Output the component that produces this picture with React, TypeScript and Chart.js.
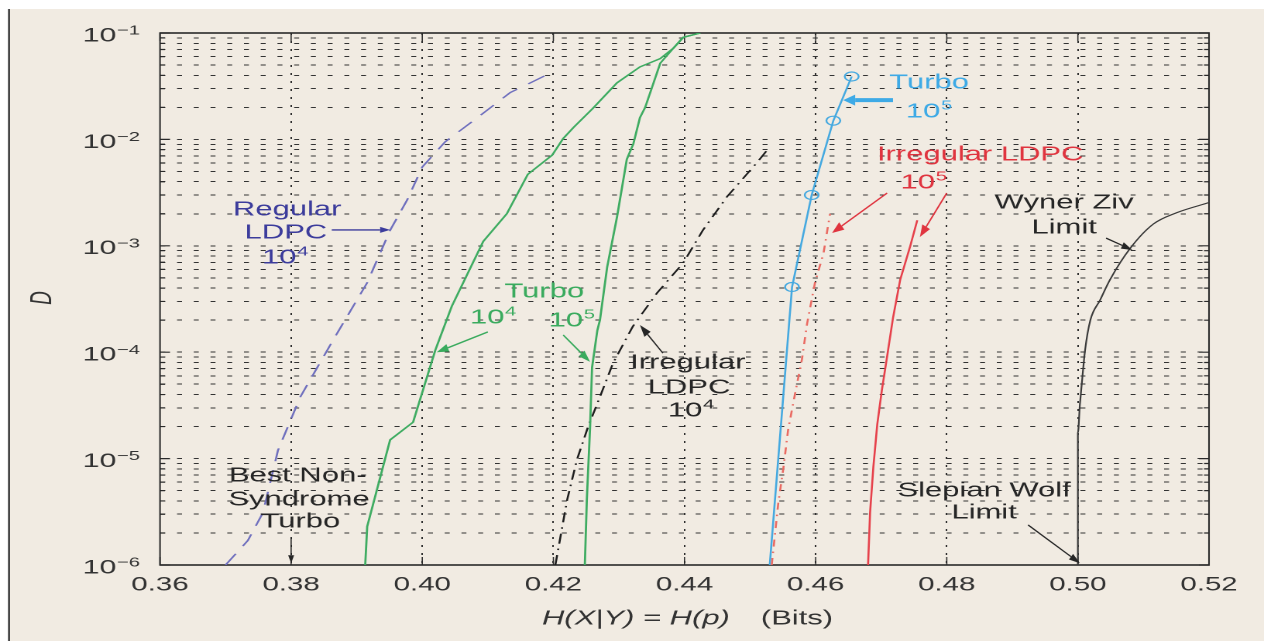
import React, { useEffect, useRef } from 'react';
import { Chart, registerables } from 'chart.js';

Chart.register(...registerables);

// ---------------- page / layout ----------------
const PAGE_W = 1264;
const PAGE_H = 641;
const CW = 816; // canvas width before the horizontal stretch of the original picture
const SX = PAGE_W / CW;
const PLOT_LEFT = 160 / SX;
const PLOT_RIGHT = 1209 / SX;
const PLOT_TOP = 33;
const PLOT_BOTTOM = 565;
const FONT = '"Liberation Sans", Arial, Helvetica, sans-serif';
const BG = '#f1ebe2';

// ---------------- axes ----------------
const X_TICKS = [0.36, 0.38, 0.4, 0.42, 0.44, 0.46, 0.48, 0.5, 0.52];
const Y_DECADES = [-6, -5, -4, -3, -2, -1];
const Y_MANTISSAS = [1, 2, 3, 4, 5, 6, 7, 8, 9];
const Y_TICKS: number[] = [];
Y_DECADES.forEach((e) => {
  Y_MANTISSAS.forEach((m) => {
    if (e === -1 && m > 1) return;
    Y_TICKS.push(Number((m * Math.pow(10, e)).toPrecision(6)));
  });
});

// ---------------- series ----------------
const regularLdpc1e4X = [0.37, 0.3734, 0.3757, 0.378, 0.3814, 0.3864, 0.3916, 0.3951, 0.3977, 0.4, 0.4035, 0.4078, 0.4134, 0.4192];
const regularLdpc1e4D = [1.0e-6, 1.7e-6, 3.1e-6, 1.2e-5, 3.8e-5, 1.3e-4, 4.5e-4, 1.4e-3, 2.7e-3, 5.5e-3, 9.5e-3, 1.5e-2, 2.75e-2, 4.1e-2];

const turbo1e4X = [0.3913, 0.3916, 0.3951, 0.3986, 0.402, 0.4045, 0.4093, 0.4129, 0.4161, 0.4198, 0.4215, 0.4231, 0.426, 0.4297, 0.4332, 0.4363, 0.4383, 0.4398, 0.4424];
const turbo1e4D = [1.0e-6, 2.3e-6, 1.5e-5, 2.2e-5, 1.05e-4, 2.7e-4, 1.1e-3, 2.0e-3, 4.7e-3, 7.1e-3, 1.02e-2, 1.3e-2, 1.95e-2, 3.4e-2, 4.8e-2, 5.75e-2, 7.2e-2, 9.1e-2, 1.0e-1];

const turbo1e5X = [0.4248, 0.4251, 0.4256, 0.4259, 0.4267, 0.4271, 0.4282, 0.4297, 0.4312, 0.4322, 0.4332, 0.434, 0.4363, 0.4383, 0.4398, 0.4424];
const turbo1e5D = [1.0e-6, 4.1e-6, 2.0e-5, 7.2e-5, 1.6e-4, 2.0e-4, 6.3e-4, 1.86e-3, 6.5e-3, 9.1e-3, 1.6e-2, 2.0e-2, 5.2e-2, 7.2e-2, 9.1e-2, 1.0e-1];

const irregularLdpc1e4X = [0.4203, 0.4221, 0.4236, 0.4253, 0.4271, 0.4291, 0.4321, 0.4358, 0.4398, 0.4428, 0.4465, 0.451, 0.453];
const irregularLdpc1e4D = [1.0e-6, 4.1e-6, 9.8e-6, 2.0e-5, 3.8e-5, 7.9e-5, 1.74e-4, 3.6e-4, 6.9e-4, 1.4e-3, 2.9e-3, 6.0e-3, 8.5e-3];

const turboSyndrome1e5X = [0.453, 0.4564, 0.4594, 0.4627, 0.4655];
const turboSyndrome1e5D = [1.0e-6, 4.1e-4, 3.0e-3, 1.5e-2, 3.9e-2];

const irregularLdpc1e5aX = [0.4533, 0.4543, 0.4551, 0.4558, 0.4569, 0.4579, 0.4587, 0.4599, 0.4612, 0.4622];
const irregularLdpc1e5aD = [1.0e-6, 3.8e-6, 8.3e-6, 1.86e-5, 4.2e-5, 8.5e-5, 1.86e-4, 4.5e-4, 8.5e-4, 2.0e-3];

const irregularLdpc1e5bX = [0.468, 0.4683, 0.4688, 0.4694, 0.4701, 0.4709, 0.4718, 0.4729, 0.4744, 0.4755];
const irregularLdpc1e5bD = [1.0e-6, 3.1e-6, 8.3e-6, 2.1e-5, 4.4e-5, 9.1e-5, 2.1e-4, 4.8e-4, 9.8e-4, 1.74e-3];

const limitX = [0.5, 0.5, 0.5003, 0.5006, 0.5011, 0.5019, 0.5034, 0.5049, 0.508, 0.5115, 0.5151, 0.52];
const limitD = [1.0e-6, 1.74e-5, 3.2e-5, 5.1e-5, 1.05e-4, 2.0e-4, 3.1e-4, 4.8e-4, 9.5e-4, 1.6e-3, 2.05e-3, 2.55e-3];

// ---------------- annotations ----------------
const BLUE = '#3c3c9c';
const GREEN = '#3aab5e';
const CYAN = '#3eaae6';
const RED = '#e0343f';
const DARK = '#262626';

type Label = { text: string; sup?: string; x: number; d: number; color: string };
type Arrow = { x1: number; d1: number; x2: number; d2: number; color: string; width: number; head: number; headW: number };

const LABELS: Label[] = [
  { text: 'Regular', x: 0.3794, d: 2.17e-3, color: BLUE },
  { text: 'LDPC', x: 0.3792, d: 1.32e-3, color: BLUE },
  { text: '10', sup: '4', x: 0.3791, d: 7.67e-4, color: BLUE },
  { text: 'Turbo', x: 0.4186, d: 3.68e-4, color: GREEN },
  { text: '10', sup: '4', x: 0.4108, d: 2.09e-4, color: GREEN },
  { text: '10', sup: '5', x: 0.4228, d: 1.96e-4, color: GREEN },
  { text: 'Irregular', x: 0.4405, d: 7.9e-5, color: DARK },
  { text: 'LDPC', x: 0.4407, d: 4.61e-5, color: DARK },
  { text: '10', sup: '4', x: 0.441, d: 2.8e-5, color: DARK },
  { text: 'Best Non-', x: 0.381, d: 6.85e-6, color: DARK },
  { text: 'Syndrome', x: 0.3812, d: 4.08e-6, color: DARK },
  { text: 'Turbo', x: 0.3814, d: 2.54e-6, color: DARK },
  { text: 'Turbo', x: 0.4773, d: 3.39e-2, color: CYAN },
  { text: '10', sup: '5', x: 0.4773, d: 1.81e-2, color: CYAN },
  { text: 'Irregular LDPC', x: 0.4851, d: 7.13e-3, color: RED },
  { text: '10', sup: '5', x: 0.4765, d: 3.89e-3, color: RED },
  { text: 'Wyner Ziv', x: 0.4979, d: 2.52e-3, color: DARK },
  { text: 'Limit', x: 0.4979, d: 1.47e-3, color: DARK },
  { text: 'Slepian Wolf', x: 0.4857, d: 4.95e-6, color: DARK },
  { text: 'Limit', x: 0.4857, d: 3.08e-6, color: DARK },
];

const ARROWS: Arrow[] = [
  { x1: 0.3862, d1: 1.41e-3, x2: 0.3951, d2: 1.41e-3, color: BLUE, width: 1.3, head: 10, headW: 6 },
  { x1: 0.41, d1: 1.55e-4, x2: 0.4022, d2: 1.0e-4, color: GREEN, width: 1.5, head: 12, headW: 8 },
  { x1: 0.4215, d1: 1.45e-4, x2: 0.4256, d2: 8.1e-5, color: GREEN, width: 1.5, head: 12, headW: 8 },
  { x1: 0.4367, d1: 9.8e-5, x2: 0.4332, d2: 1.8e-4, color: DARK, width: 1.3, head: 12, headW: 8 },
  { x1: 0.38, d1: 1.79e-6, x2: 0.38, d2: 1.04e-6, color: DARK, width: 1.2, head: 8, headW: 6 },
  { x1: 0.4718, d1: 2.34e-2, x2: 0.4642, d2: 2.34e-2, color: CYAN, width: 4, head: 12, headW: 11 },
  { x1: 0.4709, d1: 3.13e-3, x2: 0.4625, d2: 1.32e-3, color: RED, width: 1.5, head: 12, headW: 9 },
  { x1: 0.48, d1: 3.13e-3, x2: 0.4759, d2: 1.21e-3, color: RED, width: 1.5, head: 12, headW: 9 },
  { x1: 0.5043, d1: 1.18e-3, x2: 0.5083, d2: 9.14e-4, color: DARK, width: 1.3, head: 11, headW: 7 },
  { x1: 0.4924, d1: 2.38e-6, x2: 0.5003, d2: 1.04e-6, color: DARK, width: 1.3, head: 11, headW: 7 },
];

const pts = (xs: number[], ds: number[]) => xs.map((x, i) => ({ x, y: ds[i] }));

function drawArrow(ctx: CanvasRenderingContext2D, a: Arrow, xs: any, ys: any) {
  const x1 = xs.getPixelForValue(a.x1) * SX;
  const y1 = ys.getPixelForValue(a.d1);
  const x2 = xs.getPixelForValue(a.x2) * SX;
  const y2 = ys.getPixelForValue(a.d2);
  ctx.save();
  ctx.scale(1 / SX, 1);
  const ang = Math.atan2(y2 - y1, x2 - x1);
  const bx = x2 - a.head * Math.cos(ang);
  const by = y2 - a.head * Math.sin(ang);
  ctx.strokeStyle = a.color;
  ctx.fillStyle = a.color;
  ctx.lineWidth = a.width;
  ctx.beginPath();
  ctx.moveTo(x1, y1);
  ctx.lineTo(bx, by);
  ctx.stroke();
  const hw = a.headW / 2;
  ctx.beginPath();
  ctx.moveTo(x2, y2);
  ctx.lineTo(bx + hw * Math.sin(ang), by - hw * Math.cos(ang));
  ctx.lineTo(bx - hw * Math.sin(ang), by + hw * Math.cos(ang));
  ctx.closePath();
  ctx.fill();
  ctx.restore();
}

function drawLabel(ctx: CanvasRenderingContext2D, l: Label, xs: any, ys: any) {
  const px = xs.getPixelForValue(l.x);
  const py = ys.getPixelForValue(l.d);
  const main = `20px ${FONT}`;
  const sup = `13px ${FONT}`;
  ctx.font = main;
  const mw = ctx.measureText(l.text).width;
  let sw = 0;
  if (l.sup) {
    ctx.font = sup;
    sw = ctx.measureText(l.sup).width + 0.5;
  }
  const x0 = px - (mw + sw) / 2;
  ctx.fillStyle = l.color;
  ctx.textAlign = 'left';
  ctx.textBaseline = 'middle';
  ctx.font = main;
  ctx.fillText(l.text, x0, py);
  if (l.sup) {
    ctx.font = sup;
    ctx.fillText(l.sup, x0 + mw + 0.5, py - 6);
  }
}

const decorPlugin = {
  id: 'decor',
  beforeDraw(chart: any) {
    const ctx: CanvasRenderingContext2D = chart.ctx;
    ctx.save();
    ctx.fillStyle = '#ffffff';
    ctx.fillRect(0, 0, CW, PAGE_H);
    ctx.fillStyle = BG;
    ctx.fillRect(10 / SX, 9, CW, PAGE_H);
    ctx.fillStyle = '#3a3a3a';
    ctx.fillRect(8 / SX, 9, 2 / SX, PAGE_H);
    ctx.restore();
  },
  beforeDatasetsDraw(chart: any) {
    const ctx: CanvasRenderingContext2D = chart.ctx;
    const { left, right, top, bottom } = chart.chartArea;
    const xs = chart.scales.x;
    const ys = chart.scales.y;
    ctx.save();
    ctx.scale(1 / SX, 1);
    ctx.strokeStyle = '#2a2a2a';
    ctx.lineWidth = 1.2;
    // x tick marks, inside, bottom and top
    X_TICKS.forEach((v) => {
      const px = xs.getPixelForValue(v) * SX;
      ctx.beginPath();
      ctx.moveTo(px, bottom);
      ctx.lineTo(px, bottom - 8);
      ctx.moveTo(px, top);
      ctx.lineTo(px, top + 8);
      ctx.stroke();
    });
    // y tick marks, inside, left and right
    Y_TICKS.forEach((v) => {
      const py = ys.getPixelForValue(v);
      const e = Math.log10(v);
      const major = Math.abs(e - Math.round(e)) < 1e-6;
      const len = major ? 10 : 5;
      ctx.beginPath();
      ctx.moveTo(left * SX, py);
      ctx.lineTo(left * SX + len, py);
      ctx.moveTo(right * SX, py);
      ctx.lineTo(right * SX - len, py);
      ctx.stroke();
    });
    // frame
    ctx.lineWidth = 1.6;
    ctx.strokeRect(left * SX, top, (right - left) * SX, bottom - top);
    ctx.restore();
  },
  afterDraw(chart: any) {
    const ctx: CanvasRenderingContext2D = chart.ctx;
    const xs = chart.scales.x;
    const ys = chart.scales.y;
    const { left, right } = chart.chartArea;

    // y tick labels 10^k
    const labelRight = 140 / SX;
    Y_DECADES.forEach((e) => {
      const py = ys.getPixelForValue(Math.pow(10, e));
      const supText = '\u2212' + Math.abs(e);
      ctx.save();
      ctx.fillStyle = '#333333';
      ctx.textBaseline = 'middle';
      ctx.textAlign = 'left';
      ctx.font = `13px ${FONT}`;
      const sw = ctx.measureText(supText).width;
      ctx.font = `19.5px ${FONT}`;
      const mw = ctx.measureText('10').width;
      const x0 = labelRight - sw - mw - 0.5;
      ctx.fillText('10', x0, py + 3);
      ctx.font = `13px ${FONT}`;
      ctx.fillText(supText, x0 + mw + 0.5, py - 2);
      ctx.restore();
    });

    // annotations
    ctx.save();
    LABELS.forEach((l) => drawLabel(ctx, l, xs, ys));
    ARROWS.forEach((a) => drawArrow(ctx, a, xs, ys));
    ctx.restore();

    // x axis title
    ctx.save();
    ctx.fillStyle = '#333333';
    ctx.textBaseline = 'middle';
    ctx.textAlign = 'left';
    const t1 = 'H(X|Y) = H(p)';
    const t2 = '(Bits)';
    const f1 = `italic 20px ${FONT}`;
    const f2 = `20px ${FONT}`;
    ctx.font = f1;
    const w1 = ctx.measureText(t1).width;
    ctx.font = f2;
    const w2 = ctx.measureText(t2).width;
    const gap = 20;
    const cx = (left + right) / 2 + 3 / SX;
    const x0 = cx - (w1 + gap + w2) / 2;
    ctx.font = f1;
    ctx.fillText(t1, x0, 619);
    ctx.font = f2;
    ctx.fillText(t2, x0 + w1 + gap, 619);
    ctx.restore();

    // y axis title
    ctx.save();
    ctx.translate(43 / SX, 298);
    ctx.rotate(-Math.PI / 2);
    ctx.fillStyle = '#333333';
    ctx.font = `italic 19px ${FONT}`;
    ctx.textAlign = 'center';
    ctx.textBaseline = 'middle';
    ctx.fillText('D', 0, 0);
    ctx.restore();
  },
};

export default function App() {
  const ref = useRef<HTMLCanvasElement>(null);
  useEffect(() => {
    document.body.style.margin = '0';
    const canvas = ref.current;
    if (!canvas) return;
    const chart = new Chart(canvas, {
      type: 'scatter',
      data: {
        datasets: [
          {
            label: 'Regular LDPC 10^4',
            data: pts(regularLdpc1e4X, regularLdpc1e4D),
            showLine: true,
            borderColor: '#7070be',
            borderWidth: 1.3,
            borderDash: [13, 9],
            pointRadius: 0,
          },
          {
            label: 'Turbo 10^4',
            data: pts(turbo1e4X, turbo1e4D),
            showLine: true,
            borderColor: '#3fac62',
            borderWidth: 1.4,
            pointRadius: 0,
          },
          {
            label: 'Turbo 10^5',
            data: pts(turbo1e5X, turbo1e5D),
            showLine: true,
            borderColor: '#3fac62',
            borderWidth: 1.4,
            pointRadius: 0,
          },
          {
            label: 'Irregular LDPC 10^4',
            data: pts(irregularLdpc1e4X, irregularLdpc1e4D),
            showLine: true,
            borderColor: '#1e1e1e',
            borderWidth: 1.3,
            borderDash: [10, 5, 1.5, 5],
            pointRadius: 0,
          },
          {
            label: 'Irregular LDPC 10^5 (a)',
            data: pts(irregularLdpc1e5aX, irregularLdpc1e5aD),
            showLine: true,
            borderColor: '#ea6a62',
            borderWidth: 1.3,
            borderDash: [7, 5, 1.5, 5],
            pointRadius: 0,
          },
          {
            label: 'Irregular LDPC 10^5 (b)',
            data: pts(irregularLdpc1e5bX, irregularLdpc1e5bD),
            showLine: true,
            borderColor: '#e6414b',
            borderWidth: 1.3,
            pointRadius: 0,
          },
          {
            label: 'Turbo 10^5 (syndrome)',
            data: pts(turboSyndrome1e5X, turboSyndrome1e5D),
            showLine: true,
            borderColor: '#45a9e0',
            borderWidth: 1.3,
            pointRadius: (c: any) => (c.dataIndex === 0 ? 0 : 4.5),
            pointBorderColor: '#45a9e0',
            pointBackgroundColor: 'rgba(0,0,0,0)',
            pointBorderWidth: 1.2,
          },
          {
            label: 'Wyner Ziv / Slepian Wolf limit',
            data: pts(limitX, limitD),
            showLine: true,
            borderColor: '#3a3a3a',
            borderWidth: 1.1,
            cubicInterpolationMode: 'monotone',
            pointRadius: 0,
          },
        ],
      },
      options: {
        animation: false,
        responsive: false,
        devicePixelRatio: 2,
        events: [],
        layout: { padding: { top: PLOT_TOP, right: CW - PLOT_RIGHT, left: 0, bottom: 0 } },
        plugins: { legend: { display: false }, tooltip: { enabled: false }, title: { display: false } },
        scales: {
          x: {
            type: 'linear',
            min: 0.36,
            max: 0.52,
            afterBuildTicks: (s: any) => {
              s.ticks = X_TICKS.map((v) => ({ value: v }));
            },
            afterFit: (s: any) => {
              s.height = PAGE_H - PLOT_BOTTOM;
            },
            ticks: {
              autoSkip: false,
              maxRotation: 0,
              padding: 9,
              color: '#333333',
              font: { family: FONT, size: 19 },
              callback: (v: any) => Number(v).toFixed(2),
            },
            grid: {
              drawTicks: false,
              lineWidth: 1,
              color: (c: any) =>
                c.index === 0 || c.index === X_TICKS.length - 1 ? 'rgba(0,0,0,0)' : '#2e2e2e',
            },
            border: { display: false, dash: [2, 6] },
          },
          y: {
            type: 'logarithmic',
            min: 1e-6,
            max: 1e-1,
            afterBuildTicks: (s: any) => {
              s.ticks = Y_TICKS.map((v) => ({ value: v }));
            },
            afterFit: (s: any) => {
              s.width = PLOT_LEFT;
            },
            ticks: { display: false, autoSkip: false },
            grid: { drawTicks: false, lineWidth: 0.9, color: '#333333' },
            border: { display: false, dash: [3.2, 7.6] },
          },
        },
      },
      plugins: [decorPlugin],
    } as any);
    return () => chart.destroy();
  }, []);

  return (
    <div
      style={{
        position: 'absolute',
        left: 0,
        top: 0,
        width: PAGE_W,
        height: PAGE_H,
        overflow: 'hidden',
        background: '#ffffff',
      }}
    >
      <div
        style={{
          position: 'absolute',
          left: 0,
          top: 0,
          width: CW,
          height: PAGE_H,
          transform: `scaleX(${SX})`,
          transformOrigin: '0 0',
        }}
      >
        <canvas ref={ref} width={CW} height={PAGE_H} style={{ display: 'block', width: CW, height: PAGE_H }} />
      </div>
    </div>
  );
}
